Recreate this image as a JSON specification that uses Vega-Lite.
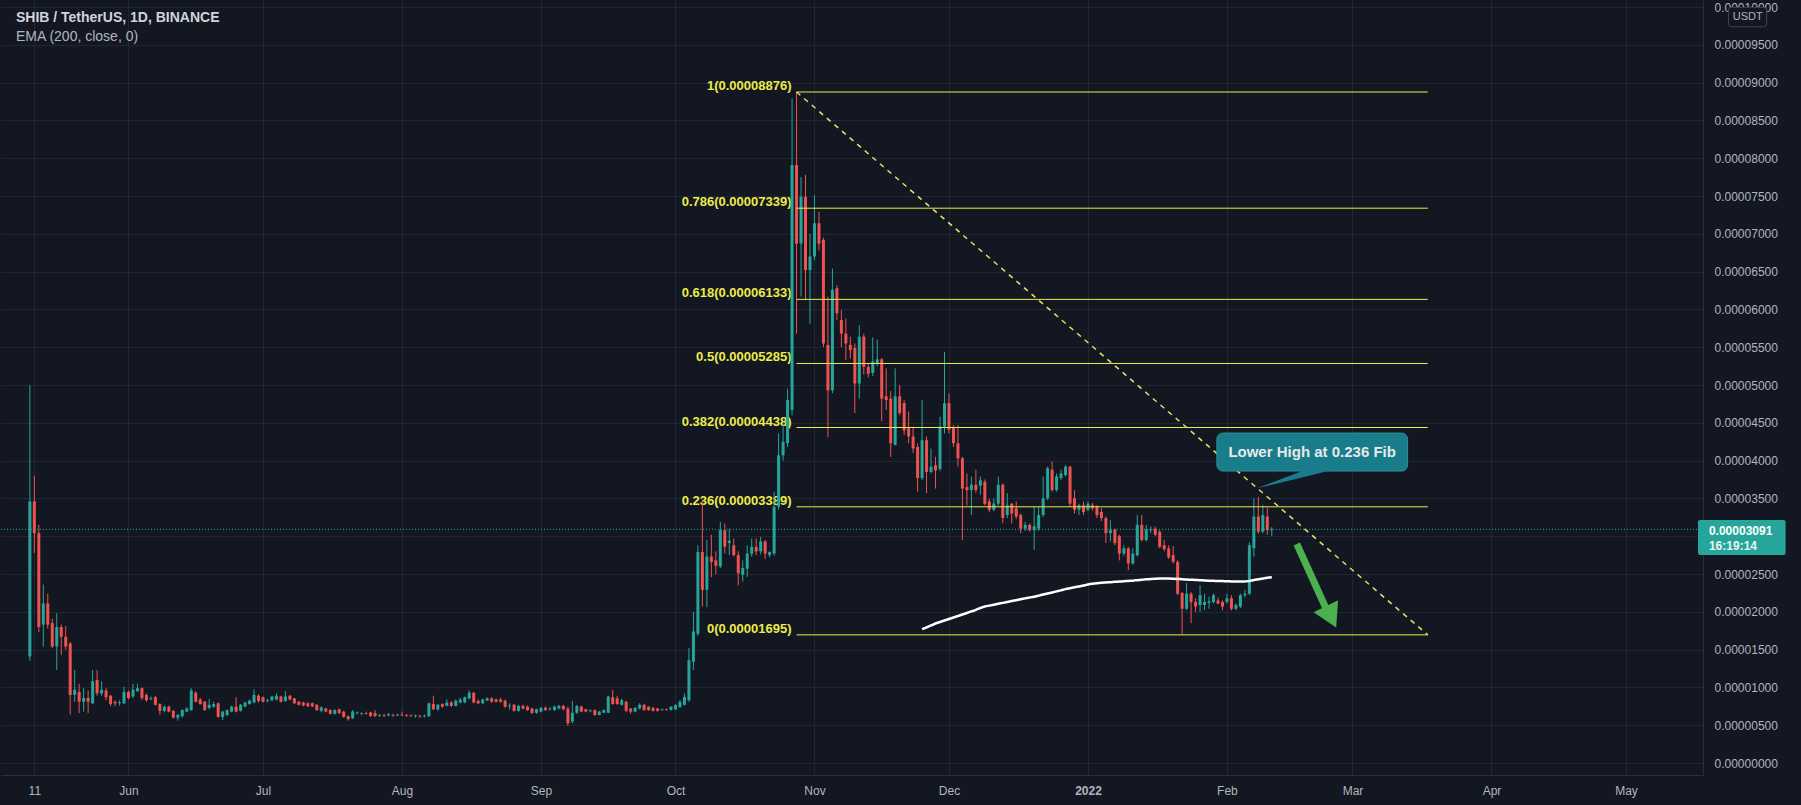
{
  "$schema": "https://vega.github.io/schema/vega-lite/v6.json",
  "width": 1702,
  "height": 775,
  "padding": 0,
  "autosize": {"type": "pad"},
  "background": "#131722",
  "config": {"view": {"stroke": null}, "font": "Liberation Sans", "axisY": {"tickCount": 21, "labelOverlap": false}},
  "datasets": {
    "candles": [
      {"t":"2021-05-10","o":14.1,"h":50,"l":13.5,"c":34.6},
      {"t":"2021-05-11","o":34.6,"h":38,"l":27.8,"c":30.4},
      {"t":"2021-05-12","o":30.4,"h":31.5,"l":17.3,"c":18},
      {"t":"2021-05-13","o":18.3,"h":23.6,"l":15.4,"c":21.1},
      {"t":"2021-05-14","o":21.1,"h":22.4,"l":17.8,"c":18.3},
      {"t":"2021-05-15","o":18.5,"h":19.1,"l":15.2,"c":15.4},
      {"t":"2021-05-16","o":15.4,"h":19.8,"l":12.3,"c":18},
      {"t":"2021-05-17","o":18,"h":18.3,"l":14.3,"c":16.7},
      {"t":"2021-05-18","o":16.7,"h":18.1,"l":15,"c":15.4},
      {"t":"2021-05-19","o":15.8,"h":16,"l":6.4,"c":9},
      {"t":"2021-05-20","o":9,"h":12.3,"l":8.1,"c":9.7},
      {"t":"2021-05-21","o":9.4,"h":10.5,"l":6.6,"c":8.1},
      {"t":"2021-05-22","o":8.1,"h":9.9,"l":6.8,"c":8.6},
      {"t":"2021-05-23","o":8.6,"h":9.6,"l":6.6,"c":8.1},
      {"t":"2021-05-24","o":7.9,"h":12.3,"l":7.8,"c":10.8},
      {"t":"2021-05-25","o":11,"h":12.3,"l":8.9,"c":9.2},
      {"t":"2021-05-26","o":9.2,"h":10.8,"l":8.9,"c":9.7},
      {"t":"2021-05-27","o":9.6,"h":9.9,"l":8.3,"c":8.7},
      {"t":"2021-05-28","o":8.9,"h":9,"l":7.5,"c":7.8},
      {"t":"2021-05-29","o":8.1,"h":8.3,"l":7.5,"c":7.9},
      {"t":"2021-05-30","o":7.9,"h":8.3,"l":7.6,"c":8},
      {"t":"2021-05-31","o":7.9,"h":10.1,"l":7.8,"c":9.4},
      {"t":"2021-06-01","o":9.4,"h":9.6,"l":8.4,"c":8.6},
      {"t":"2021-06-02","o":8.8,"h":10.5,"l":8.6,"c":9.7},
      {"t":"2021-06-03","o":9.5,"h":10.5,"l":9.4,"c":9.9},
      {"t":"2021-06-04","o":9.9,"h":10,"l":8.3,"c":8.6},
      {"t":"2021-06-05","o":9,"h":9.2,"l":8.1,"c":8.3},
      {"t":"2021-06-06","o":8.5,"h":8.8,"l":8.3,"c":8.6},
      {"t":"2021-06-07","o":8.7,"h":8.9,"l":7.6,"c":7.7},
      {"t":"2021-06-08","o":7.8,"h":7.9,"l":6.4,"c":6.9},
      {"t":"2021-06-09","o":6.9,"h":7.6,"l":6.7,"c":7.45},
      {"t":"2021-06-10","o":7.45,"h":7.6,"l":6.7,"c":6.8},
      {"t":"2021-06-11","o":6.9,"h":7,"l":5.9,"c":6},
      {"t":"2021-06-12","o":6,"h":6.5,"l":5.6,"c":6.35},
      {"t":"2021-06-13","o":6.2,"h":7.1,"l":6,"c":7},
      {"t":"2021-06-14","o":6.8,"h":7.4,"l":6.7,"c":7.2},
      {"t":"2021-06-15","o":7,"h":9.9,"l":6.9,"c":9.6},
      {"t":"2021-06-16","o":9.3,"h":9.5,"l":8,"c":8.1},
      {"t":"2021-06-17","o":8.4,"h":8.6,"l":7.7,"c":7.8},
      {"t":"2021-06-18","o":8.1,"h":8.2,"l":6.9,"c":7},
      {"t":"2021-06-19","o":7.3,"h":8.5,"l":7.1,"c":7.7},
      {"t":"2021-06-20","o":7.45,"h":8.1,"l":7.3,"c":7.8},
      {"t":"2021-06-21","o":7.9,"h":8,"l":6,"c":6.1},
      {"t":"2021-06-22","o":6.1,"h":6.9,"l":5.7,"c":6.8},
      {"t":"2021-06-23","o":6.35,"h":7.1,"l":6.2,"c":7},
      {"t":"2021-06-24","o":6.8,"h":7.6,"l":6.7,"c":7.45},
      {"t":"2021-06-25","o":7.45,"h":8.7,"l":6.7,"c":6.8},
      {"t":"2021-06-26","o":6.9,"h":7.8,"l":6.8,"c":7.7},
      {"t":"2021-06-27","o":7.45,"h":8.1,"l":7.4,"c":8},
      {"t":"2021-06-28","o":7.8,"h":8.4,"l":7.7,"c":8.25},
      {"t":"2021-06-29","o":8,"h":9.75,"l":7.9,"c":9},
      {"t":"2021-06-30","o":8.9,"h":9.1,"l":8,"c":8.2},
      {"t":"2021-07-01","o":8.7,"h":8.8,"l":8,"c":8.1},
      {"t":"2021-07-02","o":8.25,"h":8.5,"l":8,"c":8.35},
      {"t":"2021-07-03","o":8.3,"h":8.9,"l":8.2,"c":8.8},
      {"t":"2021-07-04","o":8.4,"h":9.2,"l":8.3,"c":8.9},
      {"t":"2021-07-05","o":8.8,"h":8.9,"l":8,"c":8.1},
      {"t":"2021-07-06","o":8.2,"h":9.5,"l":8.1,"c":8.8},
      {"t":"2021-07-07","o":8.9,"h":9,"l":8.3,"c":8.4},
      {"t":"2021-07-08","o":8.55,"h":8.6,"l":7.8,"c":7.9},
      {"t":"2021-07-09","o":8.1,"h":8.2,"l":7.6,"c":7.7},
      {"t":"2021-07-10","o":8,"h":8.1,"l":7.5,"c":7.6},
      {"t":"2021-07-11","o":7.9,"h":8,"l":7.4,"c":7.5},
      {"t":"2021-07-12","o":7.9,"h":8,"l":7.4,"c":7.5},
      {"t":"2021-07-13","o":7.7,"h":7.8,"l":6.9,"c":7},
      {"t":"2021-07-14","o":6.9,"h":7.5,"l":6.7,"c":7.35},
      {"t":"2021-07-15","o":7.2,"h":7.3,"l":6.7,"c":6.8},
      {"t":"2021-07-16","o":7,"h":7.1,"l":6.4,"c":6.5},
      {"t":"2021-07-17","o":6.5,"h":7.1,"l":6.4,"c":7},
      {"t":"2021-07-18","o":7.1,"h":7.2,"l":6.5,"c":6.6},
      {"t":"2021-07-19","o":6.8,"h":6.9,"l":6,"c":6.1},
      {"t":"2021-07-20","o":6.2,"h":6.3,"l":5.6,"c":5.8},
      {"t":"2021-07-21","o":5.9,"h":7,"l":5.8,"c":6.8},
      {"t":"2021-07-22","o":6.6,"h":6.8,"l":6.4,"c":6.7},
      {"t":"2021-07-23","o":6.5,"h":6.7,"l":6.3,"c":6.6},
      {"t":"2021-07-24","o":6.6,"h":6.8,"l":6.4,"c":6.5},
      {"t":"2021-07-25","o":6.7,"h":6.8,"l":6.1,"c":6.2},
      {"t":"2021-07-26","o":6.6,"h":7,"l":6.1,"c":6.2},
      {"t":"2021-07-27","o":6.25,"h":6.5,"l":6.1,"c":6.35},
      {"t":"2021-07-28","o":6.3,"h":6.5,"l":6.1,"c":6.2},
      {"t":"2021-07-29","o":6.3,"h":6.6,"l":6.2,"c":6.45},
      {"t":"2021-07-30","o":6.4,"h":6.5,"l":6.1,"c":6.3},
      {"t":"2021-07-31","o":6.3,"h":6.5,"l":6.2,"c":6.4},
      {"t":"2021-08-01","o":6.4,"h":6.8,"l":6.2,"c":6.3},
      {"t":"2021-08-02","o":6.35,"h":6.5,"l":6.1,"c":6.25},
      {"t":"2021-08-03","o":6.3,"h":6.4,"l":6.1,"c":6.2},
      {"t":"2021-08-04","o":6.2,"h":6.4,"l":6,"c":6.3},
      {"t":"2021-08-05","o":6.25,"h":6.35,"l":6,"c":6.15},
      {"t":"2021-08-06","o":6.15,"h":6.4,"l":6.05,"c":6.25},
      {"t":"2021-08-07","o":6.2,"h":8,"l":6.1,"c":7.9},
      {"t":"2021-08-08","o":7.8,"h":8.9,"l":7,"c":7.1},
      {"t":"2021-08-09","o":7.1,"h":7.8,"l":6.9,"c":7.7},
      {"t":"2021-08-10","o":7.8,"h":7.9,"l":7.3,"c":7.45},
      {"t":"2021-08-11","o":7.55,"h":8.4,"l":7.5,"c":8},
      {"t":"2021-08-12","o":8,"h":8.2,"l":7.4,"c":7.55},
      {"t":"2021-08-13","o":7.55,"h":8.4,"l":7.5,"c":8.25},
      {"t":"2021-08-14","o":8,"h":8.6,"l":7.9,"c":8.4},
      {"t":"2021-08-15","o":8,"h":8.8,"l":7.9,"c":8.7},
      {"t":"2021-08-16","o":8.55,"h":9.6,"l":8.4,"c":9.3},
      {"t":"2021-08-17","o":9.3,"h":9.4,"l":7.9,"c":8},
      {"t":"2021-08-18","o":8.2,"h":8.4,"l":7.8,"c":7.9},
      {"t":"2021-08-19","o":7.9,"h":8.5,"l":7.8,"c":8.4},
      {"t":"2021-08-20","o":8.25,"h":8.7,"l":8.2,"c":8.55},
      {"t":"2021-08-21","o":8.55,"h":8.7,"l":8,"c":8.1},
      {"t":"2021-08-22","o":8.4,"h":8.5,"l":8,"c":8.1},
      {"t":"2021-08-23","o":8.4,"h":8.6,"l":8,"c":8.1},
      {"t":"2021-08-24","o":8.25,"h":8.4,"l":7.3,"c":7.45},
      {"t":"2021-08-25","o":7.5,"h":7.9,"l":7.1,"c":7.6},
      {"t":"2021-08-26","o":7.7,"h":7.8,"l":6.8,"c":6.9},
      {"t":"2021-08-27","o":6.9,"h":7.7,"l":6.8,"c":7.55},
      {"t":"2021-08-28","o":7.55,"h":7.7,"l":7.1,"c":7.2},
      {"t":"2021-08-29","o":7.45,"h":7.6,"l":6.9,"c":7},
      {"t":"2021-08-30","o":7.2,"h":7.3,"l":6.5,"c":6.6},
      {"t":"2021-08-31","o":6.65,"h":7.2,"l":6.5,"c":7.1},
      {"t":"2021-09-01","o":6.8,"h":7.4,"l":6.7,"c":7.3},
      {"t":"2021-09-02","o":7.3,"h":7.5,"l":6.9,"c":7},
      {"t":"2021-09-03","o":7.1,"h":7.4,"l":6.9,"c":7.2},
      {"t":"2021-09-04","o":7,"h":7.6,"l":6.9,"c":7.45},
      {"t":"2021-09-05","o":7.2,"h":7.7,"l":7.1,"c":7.55},
      {"t":"2021-09-06","o":7.55,"h":7.7,"l":7,"c":7.1},
      {"t":"2021-09-07","o":7.2,"h":7.45,"l":4.9,"c":5.25},
      {"t":"2021-09-08","o":5.5,"h":8.2,"l":5.25,"c":6.65},
      {"t":"2021-09-09","o":6.65,"h":7.7,"l":6.5,"c":7.55},
      {"t":"2021-09-10","o":7.45,"h":7.6,"l":6.7,"c":6.8},
      {"t":"2021-09-11","o":7.1,"h":7.2,"l":6.7,"c":6.8},
      {"t":"2021-09-12","o":6.85,"h":7.1,"l":6.7,"c":6.95},
      {"t":"2021-09-13","o":7,"h":7.1,"l":6.2,"c":6.35},
      {"t":"2021-09-14","o":6.35,"h":6.9,"l":6.3,"c":6.8},
      {"t":"2021-09-15","o":6.65,"h":7.1,"l":6.6,"c":7},
      {"t":"2021-09-16","o":6.65,"h":8.9,"l":6.6,"c":8.8},
      {"t":"2021-09-17","o":8.7,"h":9.66,"l":7.7,"c":7.8},
      {"t":"2021-09-18","o":8.55,"h":8.9,"l":7.7,"c":7.8},
      {"t":"2021-09-19","o":7.7,"h":8.5,"l":7.6,"c":8.3},
      {"t":"2021-09-20","o":8.1,"h":8.2,"l":6.7,"c":6.9},
      {"t":"2021-09-21","o":7.2,"h":7.3,"l":6.5,"c":6.8},
      {"t":"2021-09-22","o":6.8,"h":7.4,"l":6.7,"c":7.3},
      {"t":"2021-09-23","o":7.2,"h":7.9,"l":7.1,"c":7.7},
      {"t":"2021-09-24","o":7.7,"h":7.8,"l":6.9,"c":7},
      {"t":"2021-09-25","o":7.45,"h":7.5,"l":6.9,"c":7},
      {"t":"2021-09-26","o":7.3,"h":7.4,"l":6.8,"c":6.9},
      {"t":"2021-09-27","o":7.2,"h":7.3,"l":6.8,"c":6.9},
      {"t":"2021-09-28","o":7,"h":7.2,"l":6.9,"c":7.1},
      {"t":"2021-09-29","o":7.1,"h":7.2,"l":6.95,"c":7},
      {"t":"2021-09-30","o":7,"h":7.5,"l":6.95,"c":7.45},
      {"t":"2021-10-01","o":7.1,"h":7.8,"l":7,"c":7.65},
      {"t":"2021-10-02","o":7.4,"h":8.3,"l":7.3,"c":8.1},
      {"t":"2021-10-03","o":7.7,"h":9.2,"l":7.6,"c":8.75},
      {"t":"2021-10-04","o":8.3,"h":15.2,"l":8.1,"c":13.6},
      {"t":"2021-10-05","o":13.4,"h":20,"l":12.3,"c":17.4},
      {"t":"2021-10-06","o":17.1,"h":28.8,"l":16.8,"c":27.9},
      {"t":"2021-10-07","o":27.9,"h":34.8,"l":20.7,"c":22.9},
      {"t":"2021-10-08","o":22.9,"h":29.5,"l":20.6,"c":27.3},
      {"t":"2021-10-09","o":27.3,"h":30.2,"l":24.6,"c":26.6},
      {"t":"2021-10-10","o":26.8,"h":28,"l":25,"c":26.1},
      {"t":"2021-10-11","o":26,"h":31.9,"l":25.8,"c":30.8},
      {"t":"2021-10-12","o":30.8,"h":31.7,"l":27.7,"c":28.6},
      {"t":"2021-10-13","o":29.1,"h":31,"l":27.5,"c":29.4},
      {"t":"2021-10-14","o":28.8,"h":29.7,"l":27.3,"c":27.5},
      {"t":"2021-10-15","o":27.5,"h":28,"l":23.5,"c":25.1},
      {"t":"2021-10-16","o":24.9,"h":26.8,"l":24,"c":25.8},
      {"t":"2021-10-17","o":25.7,"h":28.8,"l":24.6,"c":27.7},
      {"t":"2021-10-18","o":27.7,"h":29.7,"l":27.3,"c":28.6},
      {"t":"2021-10-19","o":28.6,"h":29.7,"l":27.5,"c":28},
      {"t":"2021-10-20","o":28,"h":29.9,"l":27.6,"c":29.3},
      {"t":"2021-10-21","o":29.3,"h":29.5,"l":27,"c":27.7},
      {"t":"2021-10-22","o":27.5,"h":28,"l":27.2,"c":27.9},
      {"t":"2021-10-23","o":27.7,"h":35.9,"l":27.4,"c":33.9},
      {"t":"2021-10-24","o":33.9,"h":43.6,"l":33.5,"c":40.7},
      {"t":"2021-10-25","o":40.7,"h":44.9,"l":40,"c":42.5},
      {"t":"2021-10-26","o":42.3,"h":49.5,"l":41.8,"c":48},
      {"t":"2021-10-27","o":46.7,"h":87.9,"l":46,"c":79.1},
      {"t":"2021-10-28","o":79.1,"h":88.76,"l":56.8,"c":68.7},
      {"t":"2021-10-29","o":68.7,"h":77.5,"l":61.7,"c":74.9},
      {"t":"2021-10-30","o":74.9,"h":77.8,"l":61.2,"c":65.2},
      {"t":"2021-10-31","o":65.2,"h":70,"l":58.1,"c":67},
      {"t":"2021-11-01","o":67,"h":75.1,"l":66.5,"c":71.4},
      {"t":"2021-11-02","o":71.4,"h":72.9,"l":67.8,"c":68.7},
      {"t":"2021-11-03","o":69.2,"h":69.5,"l":55,"c":55.5},
      {"t":"2021-11-04","o":55.3,"h":61.7,"l":43.1,"c":49.3},
      {"t":"2021-11-05","o":49.3,"h":65.4,"l":48.9,"c":62.6},
      {"t":"2021-11-06","o":62.8,"h":63.2,"l":58.6,"c":59.5},
      {"t":"2021-11-07","o":58.6,"h":59.9,"l":55,"c":56.8},
      {"t":"2021-11-08","o":56.8,"h":58.8,"l":53.3,"c":55.5},
      {"t":"2021-11-09","o":55.3,"h":56.4,"l":53.5,"c":54.6},
      {"t":"2021-11-10","o":54.9,"h":55.5,"l":46.3,"c":50.2},
      {"t":"2021-11-11","o":50.2,"h":57.9,"l":48.2,"c":56.4},
      {"t":"2021-11-12","o":56.4,"h":56.8,"l":51.4,"c":52.4},
      {"t":"2021-11-13","o":52.4,"h":52.9,"l":51,"c":51.5},
      {"t":"2021-11-14","o":51.6,"h":56.3,"l":51.2,"c":53.1},
      {"t":"2021-11-15","o":52.9,"h":56,"l":52.5,"c":53.4},
      {"t":"2021-11-16","o":53.4,"h":53.6,"l":45.2,"c":48.2},
      {"t":"2021-11-17","o":48.5,"h":52.2,"l":46.7,"c":48},
      {"t":"2021-11-18","o":48.2,"h":49.2,"l":40.5,"c":42.3},
      {"t":"2021-11-19","o":42.1,"h":52.2,"l":42,"c":48.5},
      {"t":"2021-11-20","o":48.5,"h":50,"l":46,"c":46.3},
      {"t":"2021-11-21","o":47.6,"h":48,"l":43.4,"c":44},
      {"t":"2021-11-22","o":44.3,"h":46.5,"l":42.3,"c":43.2},
      {"t":"2021-11-23","o":43.2,"h":44.5,"l":41,"c":41.6},
      {"t":"2021-11-24","o":41.8,"h":42.3,"l":35.9,"c":37.7},
      {"t":"2021-11-25","o":37.7,"h":48,"l":37.4,"c":42.7,"e":17.7},
      {"t":"2021-11-26","o":42.7,"h":43.2,"l":35.7,"c":38.5,"e":17.95},
      {"t":"2021-11-27","o":38.5,"h":41.6,"l":38.3,"c":39.2,"e":18.2},
      {"t":"2021-11-28","o":39.4,"h":40.5,"l":36.3,"c":38.7,"e":18.45},
      {"t":"2021-11-29","o":38.9,"h":45.8,"l":38.6,"c":44.5,"e":18.65},
      {"t":"2021-11-30","o":44.5,"h":54.4,"l":43.6,"c":47.6,"e":18.85},
      {"t":"2021-12-01","o":47.6,"h":48.9,"l":43.6,"c":44.1,"e":19.05},
      {"t":"2021-12-02","o":44.3,"h":44.7,"l":41.8,"c":42.3,"e":19.25},
      {"t":"2021-12-03","o":42.3,"h":44.7,"l":39.2,"c":40.3,"e":19.45},
      {"t":"2021-12-04","o":40.3,"h":40.5,"l":29.5,"c":36.3,"e":19.65},
      {"t":"2021-12-05","o":36.5,"h":38.3,"l":34.1,"c":36.1,"e":19.85},
      {"t":"2021-12-06","o":36.1,"h":37.9,"l":32.8,"c":36.8,"e":20.05},
      {"t":"2021-12-07","o":36.8,"h":38.8,"l":35.7,"c":36.1,"e":20.25},
      {"t":"2021-12-08","o":36.7,"h":37.9,"l":35.5,"c":37.4,"e":20.5},
      {"t":"2021-12-09","o":37.2,"h":37.5,"l":34.1,"c":34.3,"e":20.7},
      {"t":"2021-12-10","o":34.6,"h":35,"l":33.2,"c":33.5,"e":20.82},
      {"t":"2021-12-11","o":33.5,"h":35,"l":33.3,"c":34.3,"e":20.94},
      {"t":"2021-12-12","o":34.3,"h":37.9,"l":34,"c":36.8,"e":21.06},
      {"t":"2021-12-13","o":36.8,"h":37,"l":31.7,"c":32.4,"e":21.18},
      {"t":"2021-12-14","o":32.8,"h":35.7,"l":32.4,"c":34.1,"e":21.3},
      {"t":"2021-12-15","o":34.3,"h":34.4,"l":31.7,"c":33,"e":21.42},
      {"t":"2021-12-16","o":33.7,"h":34.6,"l":32.3,"c":32.6,"e":21.54},
      {"t":"2021-12-17","o":32.8,"h":33,"l":30.4,"c":31,"e":21.66},
      {"t":"2021-12-18","o":31,"h":31.9,"l":30.7,"c":31.5,"e":21.78},
      {"t":"2021-12-19","o":31.5,"h":31.7,"l":30.6,"c":30.8,"e":21.9},
      {"t":"2021-12-20","o":30.8,"h":33.9,"l":28.2,"c":31.3,"e":22},
      {"t":"2021-12-21","o":31,"h":33.9,"l":30.7,"c":32.8,"e":22.14},
      {"t":"2021-12-22","o":32.8,"h":37.9,"l":32.5,"c":35,"e":22.28},
      {"t":"2021-12-23","o":35,"h":39.2,"l":34.8,"c":39,"e":22.42},
      {"t":"2021-12-24","o":38.8,"h":39.9,"l":35.9,"c":36.1,"e":22.56},
      {"t":"2021-12-25","o":36.1,"h":38.3,"l":35.9,"c":37.9,"e":22.7},
      {"t":"2021-12-26","o":37.7,"h":38.8,"l":37.4,"c":38.3,"e":22.84},
      {"t":"2021-12-27","o":38.1,"h":39.4,"l":37.9,"c":39.2,"e":23},
      {"t":"2021-12-28","o":39.2,"h":39.3,"l":33.9,"c":34.3,"e":23.12},
      {"t":"2021-12-29","o":35,"h":36.1,"l":33,"c":33.5,"e":23.24},
      {"t":"2021-12-30","o":33.5,"h":34.3,"l":32.8,"c":34.1,"e":23.36},
      {"t":"2021-12-31","o":34.1,"h":34.6,"l":32.8,"c":33.2,"e":23.48},
      {"t":"2022-01-01","o":33.5,"h":34.6,"l":33.3,"c":34.3,"e":23.6},
      {"t":"2022-01-02","o":34.1,"h":34.4,"l":33.4,"c":33.7,"e":23.7},
      {"t":"2022-01-03","o":33.9,"h":34.1,"l":32.4,"c":32.8,"e":23.78},
      {"t":"2022-01-04","o":33.2,"h":33.7,"l":32,"c":32.4,"e":23.84},
      {"t":"2022-01-05","o":32.4,"h":32.6,"l":29.1,"c":30.4,"e":23.88},
      {"t":"2022-01-06","o":30.4,"h":32.1,"l":29.3,"c":30.8,"e":23.92},
      {"t":"2022-01-07","o":30.9,"h":31,"l":28.8,"c":29.1,"e":23.96},
      {"t":"2022-01-08","o":30,"h":30.2,"l":26.8,"c":27.7,"e":24},
      {"t":"2022-01-09","o":27.7,"h":28.8,"l":27.4,"c":28.4,"e":24.04},
      {"t":"2022-01-10","o":28.4,"h":28.6,"l":25.5,"c":26.4,"e":24.08},
      {"t":"2022-01-11","o":26.4,"h":28.4,"l":26.2,"c":27.7,"e":24.12},
      {"t":"2022-01-12","o":27.5,"h":32.8,"l":27.3,"c":31.5,"e":24.18},
      {"t":"2022-01-13","o":31.5,"h":32.8,"l":29.3,"c":29.5,"e":24.24},
      {"t":"2022-01-14","o":29.5,"h":31.5,"l":29.3,"c":30.9,"e":24.3},
      {"t":"2022-01-15","o":30.8,"h":31.3,"l":30.4,"c":30.95,"e":24.35},
      {"t":"2022-01-16","o":31,"h":31.3,"l":30,"c":30.2,"e":24.38},
      {"t":"2022-01-17","o":30.6,"h":30.8,"l":28.4,"c":28.6,"e":24.4},
      {"t":"2022-01-18","o":28.8,"h":29.5,"l":28,"c":28.3,"e":24.4},
      {"t":"2022-01-19","o":28.4,"h":28.8,"l":27,"c":27.2,"e":24.4},
      {"t":"2022-01-20","o":27.5,"h":28.7,"l":26.4,"c":26.6,"e":24.38},
      {"t":"2022-01-21","o":26.6,"h":26.8,"l":22.2,"c":22.4,"e":24.35},
      {"t":"2022-01-22","o":22.5,"h":22.6,"l":16.95,"c":20.4,"e":24.3},
      {"t":"2022-01-23","o":20.4,"h":23.8,"l":20.2,"c":22.4,"e":24.27},
      {"t":"2022-01-24","o":22.4,"h":22.6,"l":18.5,"c":21.3,"e":24.24},
      {"t":"2022-01-25","o":21.3,"h":21.8,"l":20,"c":20.7,"e":24.21},
      {"t":"2022-01-26","o":20.9,"h":23.5,"l":20,"c":22.2,"e":24.18},
      {"t":"2022-01-27","o":20.9,"h":22.4,"l":20.2,"c":21.3,"e":24.15},
      {"t":"2022-01-28","o":21.2,"h":22,"l":20.4,"c":21.4,"e":24.12},
      {"t":"2022-01-29","o":21.3,"h":22.4,"l":21.1,"c":22.2,"e":24.1},
      {"t":"2022-01-30","o":21.5,"h":21.9,"l":21,"c":21.1,"e":24.08},
      {"t":"2022-01-31","o":21.3,"h":21.5,"l":20.2,"c":20.7,"e":24.06},
      {"t":"2022-02-01","o":21.3,"h":22.4,"l":21.1,"c":21.8,"e":24.04},
      {"t":"2022-02-02","o":21.8,"h":22.2,"l":20.2,"c":20.4,"e":24.02},
      {"t":"2022-02-03","o":20.4,"h":21.1,"l":20.2,"c":20.9,"e":24},
      {"t":"2022-02-04","o":20.7,"h":22.4,"l":20.5,"c":22.2,"e":24},
      {"t":"2022-02-05","o":22.2,"h":22.9,"l":21.9,"c":22.4,"e":24},
      {"t":"2022-02-06","o":22.4,"h":29.2,"l":22.2,"c":28.8,"e":24.08},
      {"t":"2022-02-07","o":28.4,"h":35,"l":27.3,"c":32.6,"e":24.2},
      {"t":"2022-02-08","o":32.6,"h":35.2,"l":30.3,"c":30.6,"e":24.3},
      {"t":"2022-02-09","o":30.6,"h":34.1,"l":30.4,"c":32.8,"e":24.4},
      {"t":"2022-02-10","o":32.6,"h":33.8,"l":30.2,"c":30.8,"e":24.5},
      {"t":"2022-02-11","o":30.8,"h":31.2,"l":30,"c":30.91,"e":24.58}
    ],
    "fib": [
      {"v":88.76,"lab":"1(0.00008876)"},
      {"v":73.39,"lab":"0.786(0.00007339)"},
      {"v":61.33,"lab":"0.618(0.00006133)"},
      {"v":52.85,"lab":"0.5(0.00005285)"},
      {"v":44.38,"lab":"0.382(0.00004438)"},
      {"v":33.89,"lab":"0.236(0.00003389)"},
      {"v":16.95,"lab":"0(0.00001695)"}
    ],
    "pointer": [
      {"t":"2022-02-07T16:00:00Z","a":36.34,"b":36.34},
      {"t":"2022-02-18T10:00:00Z","a":38.75,"b":37.85},
      {"t":"2022-02-23T14:00:00Z","a":38.75,"b":38.62}
    ]
  },
  "layer": [
    {
      "data": {"name": "candles"},
      "mark": {"type": "rule", "strokeWidth": 0, "opacity": 0},
      "encoding": {
        "x": {"field": "t", "type": "temporal", "scale": {"type": "utc", "domain": [1620145152000, 1652750784000]},
          "axis": {"title": null, "values": [1620691200000, 1622505600000, 1625097600000, 1627776000000, 1630454400000, 1633046400000, 1635724800000, 1638316800000, 1640995200000, 1643673600000, 1646092800000, 1648771200000, 1651363200000],
            "labelExpr": "utcdate(datum.value) == 11 ? '11' : (utcmonth(datum.value) == 0 ? utcFormat(datum.value, '%Y') : utcFormat(datum.value, '%b'))",
            "grid": true, "gridColor": "#222632", "ticks": false, "domain": true, "domainColor": "#2a2e39",
            "labelColor": "#b2b5be", "labelFont": "Liberation Sans", "labelFontSize": 12, "labelPadding": 10,
            "labelFlush": false, "labelOverlap": false,
            "labelFontWeight": {"condition": {"test": "utcmonth(datum.value) == 0", "value": "bold"}, "value": "normal"},
            "minExtent": 30, "maxExtent": 30}},
        "y": {"field": "l", "type": "quantitative", "scale": {"domain": [-1.587, 100.93], "nice": false, "zero": false},
          "axis": {"title": null, "orient": "right", "values": [0, 5, 10, 15, 20, 25, 30, 35, 40, 45, 50, 55, 60, 65, 70, 75, 80, 85, 90, 95, 100],
            "tickCount": 21,
            "labelExpr": "format(datum.value / 1000000, '.8f')",
            "grid": true, "gridColor": "#222632", "ticks": false, "domain": true, "domainColor": "#2a2e39",
            "labelColor": "#b2b5be", "labelFont": "Liberation Sans", "labelFontSize": 12, "labelPadding": 11,
            "labelFlush": false, "labelOverlap": false, "labelSeparation": 0, "minExtent": 99, "maxExtent": 99}}
      }
    },
    {
      "data": {"name": "fib"},
      "mark": {"type": "text", "align": "right", "baseline": "alphabetic", "dx": -5, "dy": -2, "fontSize": 13, "fontWeight": "bold", "color": "#ecec4a", "font": "Liberation Sans"},
      "encoding": {
        "x": {"datum": {"year": 2021, "month": 10, "date": 28, "utc": true}, "type": "temporal"},
        "y": {"field": "v", "type": "quantitative"},
        "text": {"field": "lab"}
      }
    },
    {
      "data": {"name": "candles"},
      "mark": {"type": "rule", "strokeWidth": 1},
      "encoding": {
        "x": {"field": "t", "type": "temporal"},
        "y": {"field": "l", "type": "quantitative"},
        "y2": {"field": "h"},
        "color": {"condition": {"test": "datum.c >= datum.o", "value": "#26a69a"}, "value": "#ef5350"}
      }
    },
    {
      "data": {"name": "candles"},
      "mark": {"type": "bar", "width": 3},
      "encoding": {
        "x": {"field": "t", "type": "temporal"},
        "y": {"field": "o", "type": "quantitative"},
        "y2": {"field": "c"},
        "color": {"condition": {"test": "datum.c >= datum.o", "value": "#26a69a"}, "value": "#ef5350"}
      }
    },
    {
      "data": {"name": "fib"},
      "mark": {"type": "rule", "color": "#ecec4a", "strokeWidth": 1},
      "encoding": {
        "x": {"datum": {"year": 2021, "month": 10, "date": 28, "utc": true}, "type": "temporal"},
        "x2": {"datum": {"year": 2022, "month": 3, "date": 17, "hours": 19, "utc": true}},
        "y": {"field": "v", "type": "quantitative"}
      }
    },
    {
      "data": {"values": [{}]},
      "mark": {"type": "rule", "color": "#e6e26a", "strokeWidth": 1.5, "strokeDash": [5, 5]},
      "encoding": {
        "x": {"datum": {"year": 2021, "month": 10, "date": 28, "utc": true}, "type": "temporal"},
        "x2": {"datum": {"year": 2022, "month": 3, "date": 17, "hours": 19, "utc": true}},
        "y": {"datum": 88.76, "type": "quantitative"},
        "y2": {"datum": 16.95}
      }
    },
    {
      "data": {"name": "candles"},
      "transform": [{"filter": "isValid(datum.e)"}],
      "mark": {"type": "line", "color": "#ffffff", "strokeWidth": 2.5, "interpolate": "monotone"},
      "encoding": {
        "x": {"field": "t", "type": "temporal"},
        "y": {"field": "e", "type": "quantitative"}
      }
    },
    {
      "data": {"values": [{}]},
      "mark": {"type": "rule", "color": "#26a69a", "strokeWidth": 1, "strokeDash": [1, 2]},
      "encoding": {
        "y": {"datum": 30.91, "type": "quantitative"}
      }
    },
    {
      "data": {"values": [{}]},
      "mark": {"type": "rect", "cornerRadius": 6, "color": "#197c8a", "stroke": "#2a8e9b", "strokeWidth": 1},
      "encoding": {
        "x": {"datum": {"year": 2022, "month": 1, "date": 29, "hours": 18, "utc": true}, "type": "temporal"},
        "x2": {"datum": {"year": 2022, "month": 3, "date": 13, "hours": 7, "utc": true}},
        "y": {"datum": 43.65, "type": "quantitative"},
        "y2": {"datum": 38.62}
      }
    },
    {
      "data": {"name": "pointer"},
      "mark": {"type": "area", "color": "#197c8a", "opacity": 1},
      "encoding": {
        "x": {"field": "t", "type": "temporal"},
        "y": {"field": "a", "type": "quantitative"},
        "y2": {"field": "b"}
      }
    },
    {
      "data": {"values": [{}]},
      "mark": {"type": "text", "text": "Lower High at 0.236 Fib", "fontSize": 15, "fontWeight": "bold", "color": "#e6e9ee", "align": "center", "baseline": "middle", "font": "Liberation Sans"},
      "encoding": {
        "x": {"datum": {"year": 2022, "month": 2, "date": 20, "utc": true}, "type": "temporal"},
        "y": {"datum": 41.14, "type": "quantitative"}
      }
    },
    {
      "data": {"values": [{}]},
      "mark": {"type": "rule", "color": "#4caf50", "strokeWidth": 7},
      "encoding": {
        "x": {"datum": {"year": 2022, "month": 2, "date": 16, "hours": 14, "utc": true}, "type": "temporal"},
        "x2": {"datum": {"year": 2022, "month": 2, "date": 23, "hours": 12, "utc": true}},
        "y": {"datum": 28.97, "type": "quantitative"},
        "y2": {"datum": 19.9}
      }
    },
    {
      "data": {"values": [{}]},
      "mark": {"type": "point", "shape": "triangle-up", "size": 745, "angle": 154, "filled": true, "color": "#4caf50", "opacity": 1},
      "encoding": {
        "x": {"datum": {"year": 2022, "month": 2, "date": 24, "hours": 5, "utc": true}, "type": "temporal"},
        "y": {"datum": 19.33, "type": "quantitative"}
      }
    },
    {
      "data": {"values": [{}]},
      "mark": {"type": "rect", "color": "#26a69a", "cornerRadius": 2},
      "encoding": {
        "x": {"datum": {"year": 2022, "month": 5, "date": 17, "hours": 1, "minutes": 26, "utc": true}, "type": "temporal"},
        "x2": {"datum": {"year": 2022, "month": 6, "date": 5, "hours": 14, "minutes": 24, "utc": true}},
        "y": {"datum": 32.14, "type": "quantitative"},
        "y2": {"datum": 27.51}
      }
    },
    {
      "data": {"values": [{}]},
      "mark": {"type": "text", "text": "0.00003091", "fontSize": 12, "fontWeight": "bold", "color": "#ffffff", "align": "left", "baseline": "middle", "font": "Liberation Sans"},
      "encoding": {
        "x": {"datum": {"year": 2022, "month": 5, "date": 19, "hours": 12, "utc": true}, "type": "temporal"},
        "y": {"datum": 30.69, "type": "quantitative"}
      }
    },
    {
      "data": {"values": [{}]},
      "mark": {"type": "text", "text": "16:19:14", "fontSize": 12, "fontWeight": "bold", "color": "#e8f5f3", "align": "left", "baseline": "middle", "font": "Liberation Sans"},
      "encoding": {
        "x": {"datum": {"year": 2022, "month": 5, "date": 19, "hours": 12, "utc": true}, "type": "temporal"},
        "y": {"datum": 28.7, "type": "quantitative"}
      }
    },
    {
      "data": {"values": [{}]},
      "mark": {"type": "rect", "color": "#131722", "stroke": "#434651", "strokeWidth": 1, "cornerRadius": 3},
      "encoding": {
        "x": {"datum": {"year": 2022, "month": 5, "date": 23, "hours": 21, "utc": true}, "type": "temporal"},
        "x2": {"datum": {"year": 2022, "month": 6, "date": 1, "hours": 9, "utc": true}},
        "y": {"datum": 99.96, "type": "quantitative"},
        "y2": {"datum": 97.39}
      }
    },
    {
      "data": {"values": [{}]},
      "mark": {"type": "text", "text": "USDT", "fontSize": 11, "color": "#b2b5be", "align": "center", "baseline": "middle", "font": "Liberation Sans"},
      "encoding": {
        "x": {"datum": {"year": 2022, "month": 5, "date": 28, "hours": 3, "minutes": 36, "utc": true}, "type": "temporal"},
        "y": {"datum": 98.68, "type": "quantitative"}
      }
    },
    {
      "data": {"values": [{}]},
      "mark": {"type": "text", "text": "SHIB / TetherUS, 1D, BINANCE", "fontSize": 14, "fontWeight": "bold", "color": "#d1d4dc", "align": "left", "baseline": "middle", "font": "Liberation Sans"},
      "encoding": {
        "x": {"datum": {"year": 2021, "month": 5, "date": 6, "hours": 21, "minutes": 36, "utc": true}, "type": "temporal"},
        "y": {"datum": 98.5, "type": "quantitative"}
      }
    },
    {
      "data": {"values": [{}]},
      "mark": {"type": "text", "text": "EMA (200, close, 0)", "fontSize": 14, "color": "#b2b5be", "align": "left", "baseline": "middle", "font": "Liberation Sans"},
      "encoding": {
        "x": {"datum": {"year": 2021, "month": 5, "date": 6, "hours": 21, "minutes": 36, "utc": true}, "type": "temporal"},
        "y": {"datum": 96.03, "type": "quantitative"}
      }
    }
  ]
}
